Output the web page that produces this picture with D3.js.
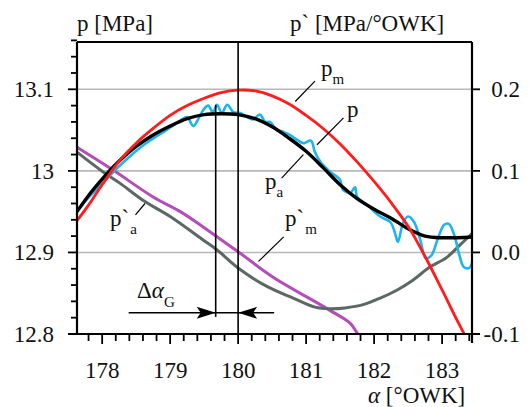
<!DOCTYPE html>
<html><head><meta charset="utf-8">
<script src="https://cdn.jsdelivr.net/npm/d3@7/dist/d3.min.js"></script>
<style>
html,body{margin:0;padding:0;background:#fff;}
</style></head>
<body><svg id="c" width="530" height="407"></svg>
<script>
// ---- data ----
const pmAlpha = [177.63,177.8,178.0,178.25,178.5,178.75,179.0,179.25,179.5,179.75,180.0,180.25,180.5,180.75,181.0,181.25,181.5,181.75,182.0,182.25,182.5,182.75,183.0,183.25,183.44];
const pmVal   = [12.939,12.958,12.983,13.012,13.034,13.052,13.068,13.080,13.089,13.096,13.099,13.098,13.092,13.082,13.068,13.052,13.033,13.011,12.987,12.961,12.932,12.895,12.854,12.812,12.782];

const pAlpha = [177.63,177.82,178.0,178.25,178.5,178.75,179.0,179.25,179.5,179.75,180.0,180.25,180.5,180.75,181.0,181.25,181.5,181.75,182.0,182.25,182.5,182.75,183.0,183.44];
const pVal   = [12.950,12.972,12.990,13.012,13.030,13.044,13.055,13.064,13.069,13.070,13.069,13.064,13.054,13.040,13.024,13.004,12.983,12.966,12.953,12.942,12.929,12.920,12.918,12.919];

const paAlpha = [177.63,177.82,178.01,178.19,178.41,178.63,178.85,179.07,179.19,179.25,179.34,179.41,179.49,179.56,179.63,179.69,179.76,179.84,179.93,180.03,180.13,180.22,180.32,180.40,180.47,180.57,180.66,180.76,180.87,180.96,181.07,181.13,181.21,181.35,181.50,181.54,181.65,181.72,181.75,181.90,182.09,182.24,182.31,182.35,182.43,182.50,182.59,182.68,182.76,182.84,182.93,183.03,183.10,183.18,183.25,183.32,183.40,183.44];
const paVal   = [12.951,12.969,12.985,13.001,13.018,13.033,13.045,13.057,13.064,13.066,13.055,13.063,13.075,13.080,13.072,13.081,13.071,13.081,13.072,13.071,13.066,13.063,13.069,13.060,13.060,13.050,13.048,13.044,13.038,13.034,13.037,13.023,13.011,12.999,12.989,12.977,12.973,12.980,12.968,12.958,12.944,12.937,12.923,12.913,12.937,12.944,12.937,12.915,12.893,12.896,12.915,12.934,12.935,12.921,12.898,12.882,12.881,12.887];

const dpmAlpha = [177.63,178.16,178.75,179.15,179.49,180.03,180.51,181.35,181.65,181.76,181.90];
const dpmVal   = [0.129,0.101,0.068,0.050,0.031,-0.001,-0.030,-0.071,-0.087,-0.100,-0.115];

const dpaAlpha = [177.63,178.01,178.26,178.60,179.0,179.49,179.69,180.03,180.43,180.81,181.13,181.35,181.57,181.84,182.09,182.34,182.57,182.82,183.07,183.26,183.44];
const dpaVal   = [0.123,0.099,0.085,0.064,0.044,0.015,0.003,-0.021,-0.042,-0.056,-0.067,-0.069,-0.068,-0.064,-0.056,-0.046,-0.034,-0.018,-0.006,0.009,0.023];

const xMajorTicks = [178,179,180,181,182,183];
const yLeftLabels = [12.8,12.9,13.0,13.1];
const yLeftText = ["12.8","12.9","13","13.1"];
const yRightLabels = [-0.1,0.0,0.1,0.2];
const yRightText = ["-0.1","0.0","0.1","0.2"];
const gridVals = [12.9,13.0,13.1];
const alphaG = 179.67;

// ---- font detection: pick first installed serif ----
const svg = d3.select("#c");
function pickFont(cands){
  const probe = svg.append("text").attr("font-size",40).text("mmmwwwlliIQ8@");
  probe.attr("font-family","monospace");
  const base = probe.node().getComputedTextLength();
  probe.attr("font-family","sans-serif");
  const base2 = probe.node().getComputedTextLength();
  let found = null;
  for(const f of cands){
    probe.attr("font-family",`"${f}", monospace`);
    const w1 = probe.node().getComputedTextLength();
    probe.attr("font-family",`"${f}", sans-serif`);
    const w2 = probe.node().getComputedTextLength();
    if(Math.abs(w1-base)>0.5 && Math.abs(w2-base2)>0.5){ found=f; break; }
  }
  probe.remove();
  return found;
}
const serif = pickFont(["Liberation Serif","Times New Roman","Tinos","DejaVu Serif","Noto Serif","FreeSerif","Nimbus Roman","TeX Gyre Termes"]);
const FONT = serif ? `"${serif}", serif` : `"Liberation Sans", Arial, sans-serif`;
const fs = serif ? 23 : 21;

// ---- layout ----
const L=77, R=472, T=42, B=334;
const x = d3.scaleLinear().domain([177.63,183.44]).range([L,R]);
const yL = d3.scaleLinear().domain([12.8,13.158]).range([B,T]);
const yR = d3.scaleLinear().domain([-0.1,0.258]).range([B,T]);

svg.insert("rect",":first-child").attr("width",530).attr("height",407).attr("fill","#fff");
svg.append("defs").append("clipPath").attr("id","clip")
  .append("rect").attr("x",L).attr("y",T).attr("width",R-L).attr("height",B-T);

svg.selectAll(".grid").data(gridVals).enter().append("line")
  .attr("x1",L).attr("x2",R).attr("y1",d=>yL(d)).attr("y2",d=>yL(d))
  .attr("stroke","#b8b8b8").attr("stroke-width",1.6);

const g = svg.append("g").attr("clip-path","url(#clip)");
function drawCurve(xs, ys, yScale, color, w, curve){
  const pts = xs.map((a,i)=>[a,ys[i]]);
  g.append("path").datum(pts)
   .attr("d", d3.line().x(d=>x(d[0])).y(d=>yScale(d[1])).curve(curve))
   .attr("fill","none").attr("stroke",color).attr("stroke-width",w)
   .attr("stroke-linejoin","round").attr("stroke-linecap","round");
}
drawCurve(dpmAlpha,dpmVal,yR,"#b44cbc",3,d3.curveCatmullRom);
drawCurve(dpaAlpha,dpaVal,yR,"#5c6864",3,d3.curveCatmullRom);
drawCurve(paAlpha,paVal,yL,"#1fb4ec",2.6,d3.curveCatmullRom);
drawCurve(pAlpha,pVal,yL,"#000",3.4,d3.curveCatmullRom);
drawCurve(pmAlpha,pmVal,yL,"#ff1c1c",2.8,d3.curveCatmullRom);

svg.append("line").attr("x1",x(180)).attr("x2",x(180)).attr("y1",T).attr("y2",B)
  .attr("stroke","#000").attr("stroke-width",1.6);
svg.append("line").attr("x1",x(alphaG)).attr("x2",x(alphaG)).attr("y1",yL(13.081)).attr("y2",yL(12.821))
  .attr("stroke","#000").attr("stroke-width",1.6);

const frame = svg.append("g").attr("stroke","#000").attr("stroke-width",2.2);
frame.append("line").attr("x1",L).attr("x2",R).attr("y1",T).attr("y2",T);
frame.append("line").attr("x1",L).attr("x2",L).attr("y1",T).attr("y2",B);
frame.append("line").attr("x1",L-9).attr("x2",R+8).attr("y1",B).attr("y2",B);
frame.append("line").attr("x1",R).attr("x2",R).attr("y1",T).attr("y2",B+9);

const leftTicks = d3.range(0,19).map(i=>+(12.8+i*0.02).toFixed(2));
svg.selectAll(".lt").data(leftTicks).enter().append("line")
  .attr("x1",d=>Math.abs(d*10-Math.round(d*10))<1e-6?L-9:L-6).attr("x2",L)
  .attr("y1",d=>yL(d)).attr("y2",d=>yL(d)).attr("stroke","#000").attr("stroke-width",1.8);
svg.selectAll(".rt").data(yRightLabels).enter().append("line")
  .attr("x1",R).attr("x2",R+8).attr("y1",d=>yR(d)).attr("y2",d=>yR(d))
  .attr("stroke","#000").attr("stroke-width",1.8);
const botTicks = d3.range(0,29).map(i=>+(177.8+i*0.2).toFixed(1));
svg.selectAll(".bt").data(botTicks).enter().append("line")
  .attr("x1",d=>x(d)).attr("x2",d=>x(d)).attr("y1",B)
  .attr("y2",d=>xMajorTicks.includes(d)?B+10:B+7)
  .attr("stroke","#000").attr("stroke-width",1.8);

function T_(sel){ return sel.attr("font-family",FONT).attr("fill","#111"); }
T_(svg.selectAll(".yl").data(yLeftLabels).enter().append("text"))
  .attr("x",54).attr("y",d=>yL(d)+8).attr("text-anchor","end").attr("font-size",fs)
  .text((d,i)=>yLeftText[i]);
T_(svg.selectAll(".yr").data(yRightLabels).enter().append("text"))
  .attr("x",520).attr("y",d=>yR(d)+8).attr("text-anchor","end").attr("font-size",fs)
  .text((d,i)=>yRightText[i]);
T_(svg.selectAll(".xl").data(xMajorTicks).enter().append("text"))
  .attr("x",d=>x(d)).attr("y",378).attr("text-anchor","middle").attr("font-size",fs)
  .text(d=>d);

T_(svg.append("text")).attr("x",77).attr("y",31).attr("font-size",fs).text("p [MPa]");
T_(svg.append("text")).attr("x",290).attr("y",31).attr("font-size",fs).text("p` [MPa/°OWK]");
const xt = T_(svg.append("text")).attr("x",368).attr("y",403).attr("font-size",fs);
xt.append("tspan").attr("font-style","italic").text("α");
xt.append("tspan").text(" [°OWK]");

function leader(a1,p1,a2,p2){
  svg.append("line").attr("x1",x(a1)).attr("y1",yL(p1)).attr("x2",x(a2)).attr("y2",yL(p2))
    .attr("stroke","#000").attr("stroke-width",1.2);
}
leader(181.13,13.110,180.84,13.085);
leader(181.55,13.065,181.16,13.032);
leader(180.64,12.991,180.96,13.020);
leader(180.67,12.919,180.30,12.889);
leader(178.49,12.946,178.63,12.960);

function label(px,py,sub,prime){
  const t = T_(svg.append("text")).attr("x",px).attr("y",py).attr("font-size",fs);
  t.append("tspan").text("p");
  if(prime){
    t.append("tspan").text("`");
    if(sub) t.append("tspan").attr("font-size",15).attr("dx",1).attr("dy",8).text(sub);
  } else if(sub){
    t.append("tspan").attr("font-size",15).attr("dy",8).text(sub);
  }
}
label(321,76,"m",false);
label(347,117,null,false);
label(265,189,"a",false);
label(285,226,"m",true);
label(110,226,"a",true);

const dg = T_(svg.append("text")).attr("x",137).attr("y",298).attr("font-size",fs);
dg.append("tspan").text("Δ");
dg.append("tspan").attr("font-style","italic").text("α");
dg.append("tspan").attr("font-size",15).attr("dy",9).text("G");

const ay = yL(12.826);
svg.append("line").attr("x1",x(178.39)).attr("x2",x(180.53)).attr("y1",ay).attr("y2",ay)
  .attr("stroke","#000").attr("stroke-width",1.6);
const tipL = x(alphaG), tipR = x(180);
svg.append("path").attr("d",`M${tipL},${ay} L${tipL-19},${ay-6} L${tipL-15},${ay} L${tipL-19},${ay+6} Z`).attr("fill","#000");
svg.append("path").attr("d",`M${tipR},${ay} L${tipR+19},${ay-6} L${tipR+15},${ay} L${tipR+19},${ay+6} Z`).attr("fill","#000");
</script></body></html>
